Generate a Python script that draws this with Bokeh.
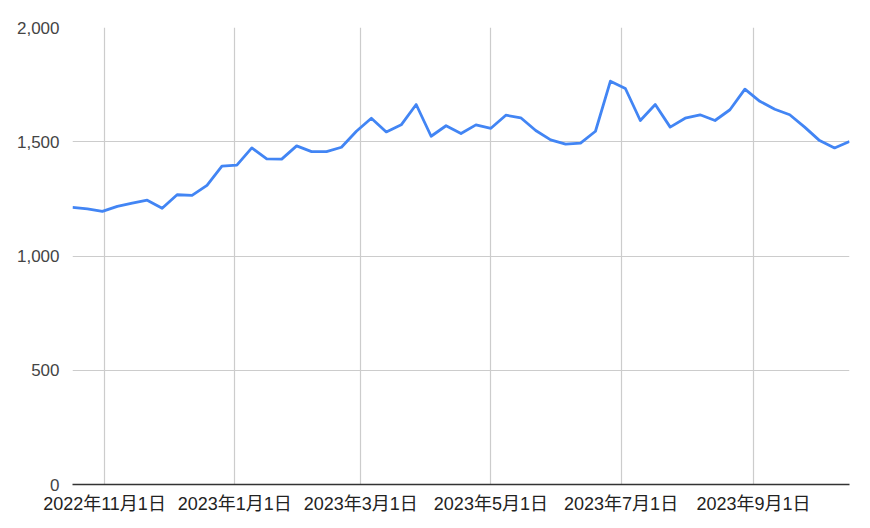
from datetime import datetime, timedelta
from bokeh.plotting import figure
from bokeh.models import Range1d, FixedTicker, NumeralTickFormatter
from bokeh.embed import file_html
from bokeh.resources import INLINE

start_date = datetime(2022, 10, 17)
values = [1213, 1206, 1195, 1217, 1231, 1244, 1209, 1268, 1265, 1309,
          1393, 1398, 1473, 1425, 1424, 1482, 1457, 1457, 1476, 1546,
          1603, 1543, 1574, 1663, 1524, 1570, 1536, 1574, 1559, 1616,
          1605, 1549, 1508, 1490, 1494, 1546, 1765, 1733, 1593, 1663,
          1564, 1603, 1618, 1593, 1640, 1730, 1677, 1642, 1618, 1564,
          1505, 1473, 1501]
dates = [start_date + timedelta(weeks=i) for i in range(len(values))]

tick_dates = [datetime(2022, 11, 1), datetime(2023, 1, 1), datetime(2023, 3, 1),
              datetime(2023, 5, 1), datetime(2023, 7, 1), datetime(2023, 9, 1)]
tick_labels = ["2022年11月1日", "2023年1月1日", "2023年3月1日",
               "2023年5月1日", "2023年7月1日", "2023年9月1日"]
y_ticks = [0, 500, 1000, 1500, 2000]

FONT = "Liberation Sans, Arial, Noto Sans CJK JP, sans-serif"

p = figure(width=862, height=520, x_axis_type="datetime",
           output_backend="svg", toolbar_location=None,
           min_border_left=72, min_border_right=13,
           min_border_top=27, min_border_bottom=36)
p.outline_line_color = None
p.x_range = Range1d(dates[0], dates[-1])
p.y_range = Range1d(0, 2000)

p.line(dates, values, line_color="#4285F4", line_width=2.8, line_join="round")

def ms(d):
    return (d - datetime(1970, 1, 1)).total_seconds() * 1000.0

tick_ms = [ms(d) for d in tick_dates]
p.xaxis.ticker = FixedTicker(ticks=tick_ms)
p.xaxis.major_label_overrides = {t: l for t, l in zip(tick_ms, tick_labels)}
p.xaxis.axis_line_color = "#333333"
p.xaxis.axis_line_width = 1.3
p.xaxis.major_tick_line_color = None
p.xaxis.minor_tick_line_color = None
p.xaxis.major_label_standoff = 3
p.xaxis.major_label_text_font = FONT
p.xaxis.major_label_text_font_size = "18px"
p.xaxis.major_label_text_color = "#222222"

p.yaxis.ticker = FixedTicker(ticks=y_ticks)
p.yaxis.formatter = NumeralTickFormatter(format="0,0")
p.yaxis.axis_line_color = None
p.yaxis.major_tick_line_color = None
p.yaxis.minor_tick_line_color = None
p.yaxis.major_label_standoff = 7
p.yaxis.major_label_text_font = FONT
p.yaxis.major_label_text_font_size = "17px"
p.yaxis.major_label_text_color = "#444444"

p.xgrid.grid_line_color = "#cccccc"
p.ygrid.grid_line_color = "#cccccc"
p.xgrid.grid_line_width = 1.2
p.ygrid.grid_line_width = 1.2

open("out.html", "w").write(file_html(p, INLINE))
